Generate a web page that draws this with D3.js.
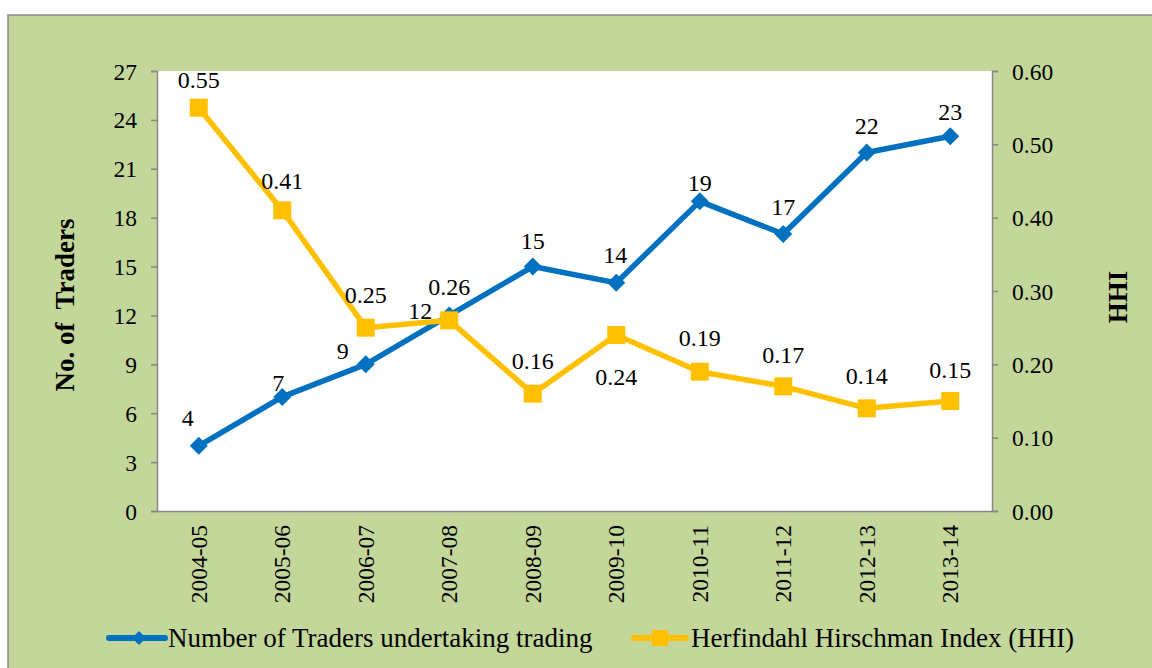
<!DOCTYPE html>
<html>
<head>
<meta charset="utf-8">
<script src="https://cdn.jsdelivr.net/npm/d3@7"></script>
<style>
  body { margin: 0; background: #fff; }
  text { font-family: "Liberation Serif", "Times New Roman", serif; fill: #000; }
</style>
</head>
<body>
<div id="chart"></div>
<script>
// chart values
let years = ["2004-05", "2005-06", "2006-07", "2007-08", "2008-09", "2009-10", "2010-11", "2011-12", "2012-13", "2013-14"]
let traders = [4, 7, 9, 12, 15, 14, 19, 17, 22, 23]
let hhi = [0.55, 0.41, 0.25, 0.26, 0.16, 0.24, 0.19, 0.17, 0.14, 0.15]
let leftTicks = [0, 3, 6, 9, 12, 15, 18, 21, 24, 27]
let rightTicks = [0, 0.1, 0.2, 0.3, 0.4, 0.5, 0.6]
let seriesNames = ["Number of Traders undertaking trading", "Herfindahl Hirschman Index (HHI)"]

const blue = "#0070C0", gold = "#FFC000", axisGray = "#878787"

document.addEventListener('DOMContentLoaded', function() {
    drawChart();
})

function drawChart() {
    var W = 1152, H = 668
    var margin = {top: 71, right: 160, bottom: 157, left: 157},
    width = W - margin.left - margin.right,
    height = H - margin.top - margin.bottom;

    var svg = d3.select("#chart").append("svg")
        .attr("width", W)
        .attr("height", H)

    // green chart area
    svg.append("rect")
        .attr("x", 8).attr("y", 15)
        .attr("width", 1160).attr("height", 680)
        .attr("fill", "#C4D79B")
        .attr("stroke", "#8a8a8a")
        .attr("stroke-width", 1.5)

    var g = svg.append("g")
        .attr("transform", "translate(" + margin.left + "," + margin.top + ")")

    g.append("rect")
        .attr("width", width).attr("height", height)
        .attr("fill", "#fff")

    var x = d3.scaleBand().domain(years).range([0, width])
    var yL = d3.scaleLinear().domain([0, 27]).range([height, 0])
    var yR = d3.scaleLinear().domain([0, 0.6]).range([height, 0])
    var cx = function(d) { return x(d) + x.bandwidth() / 2 }

    var leftAxis = g.append("g")
        .call(d3.axisLeft(yL).tickValues(leftTicks).tickSize(6).tickPadding(14).tickFormat(d3.format("d")))
    var rightAxis = g.append("g")
        .attr("transform", "translate(" + width + ",0)")
        .call(d3.axisRight(yR).tickValues(rightTicks).tickSize(6).tickPadding(14).tickFormat(d3.format(".2f")))
    var bottomAxis = g.append("g")
        .attr("transform", "translate(0," + height + ")")
        .call(d3.axisBottom(x).tickSize(0).tickPadding(0))

    ;[leftAxis, rightAxis, bottomAxis].forEach(function(a) {
        a.select(".domain").attr("stroke", axisGray).attr("stroke-width", 1.5)
        a.selectAll(".tick line").attr("stroke", axisGray).attr("stroke-width", 1.5)
        a.selectAll("text").style("font-family", "Liberation Serif").style("font-size", "23.5px").attr("fill", "#000")
    })
    leftAxis.selectAll(".tick text").attr("dy", "0.34em")
    rightAxis.selectAll(".tick text").attr("dy", "0.34em")
    bottomAxis.selectAll(".tick text")
        .attr("transform", "rotate(-90)")
        .attr("text-anchor", "end")
        .attr("x", -14)
        .attr("y", 0)
        .attr("dy", "0.35em")

    // axis titles
    svg.append("text")
        .attr("transform", "translate(74,305) rotate(-90)")
        .attr("text-anchor", "middle")
        .style("font-size", "27px").style("font-weight", "bold")
        .attr("xml:space", "preserve")
        .text("No. of  Traders")
    svg.append("text")
        .attr("transform", "translate(1127,297) rotate(-90)")
        .attr("text-anchor", "middle")
        .style("font-size", "27px").style("font-weight", "bold")
        .text("HHI")

    var lineL = d3.line().x(function(d, i) { return cx(years[i]) }).y(function(d) { return yL(d) })
    var lineR = d3.line().x(function(d, i) { return cx(years[i]) }).y(function(d) { return yR(d) })

    g.append("path").datum(traders)
        .attr("fill", "none").attr("stroke", blue).attr("stroke-width", 5.5)
        .attr("stroke-linejoin", "round")
        .attr("d", lineL)
    g.selectAll(".dia").data(traders).enter().append("path")
        .attr("transform", function(d, i) { return "translate(" + cx(years[i]) + "," + yL(d) + ")" })
        .attr("d", "M0,-9L9,0L0,9L-9,0Z")
        .attr("fill", blue)

    g.append("path").datum(hhi)
        .attr("fill", "none").attr("stroke", gold).attr("stroke-width", 5.5)
        .attr("stroke-linejoin", "round")
        .attr("d", lineR)
    g.selectAll(".sq").data(hhi).enter().append("rect")
        .attr("x", function(d, i) { return cx(years[i]) - 9 })
        .attr("y", function(d) { return yR(d) - 9 })
        .attr("width", 18).attr("height", 18)
        .attr("fill", gold)

    // data label nudges (dx, dy from the marker)
    var tradersNudge = [[-11, -28], [-4, -14], [-23, -14], [-29, -5], [0, -26], [-1, -28], [0, -19], [0, -27], [0, -27], [0, -25]]
    var hhiNudge = [[0, -28], [0, -30], [0, -33], [0, -34], [0, -33], [0, 42], [0, -34], [0, -32], [0, -33], [0, -31]]

    g.selectAll(".lblL").data(traders).enter().append("text")
        .attr("x", function(d, i) { return cx(years[i]) + tradersNudge[i][0] })
        .attr("y", function(d, i) { return yL(d) + tradersNudge[i][1] })
        .attr("dy", "0.35em")
        .attr("text-anchor", "middle")
        .style("font-size", "24px")
        .text(function(d) { return d })
    g.selectAll(".lblR").data(hhi).enter().append("text")
        .attr("x", function(d, i) { return cx(years[i]) + hhiNudge[i][0] })
        .attr("y", function(d, i) { return yR(d) + hhiNudge[i][1] })
        .attr("dy", "0.35em")
        .attr("text-anchor", "middle")
        .style("font-size", "24px")
        .text(function(d) { return d3.format(".2f")(d) })

    // legend
    var leg = svg.append("g").attr("transform", "translate(0,638)")
    leg.append("line").attr("x1", 109).attr("x2", 165).attr("stroke", blue).attr("stroke-width", 6).attr("stroke-linecap", "round")
    leg.append("path").attr("transform", "translate(139,0)").attr("d", "M0,-7L7,0L0,7L-7,0Z").attr("fill", blue)
    leg.append("text").attr("x", 168).attr("dy", "0.35em").style("font-size", "27px").text(seriesNames[0])
    leg.append("line").attr("x1", 634).attr("x2", 686).attr("stroke", gold).attr("stroke-width", 6).attr("stroke-linecap", "round")
    leg.append("rect").attr("x", 652).attr("y", -8).attr("width", 16).attr("height", 16).attr("fill", gold)
    leg.append("text").attr("x", 691).attr("dy", "0.35em").style("font-size", "27px").text(seriesNames[1])
}
</script>
</body>
</html>
